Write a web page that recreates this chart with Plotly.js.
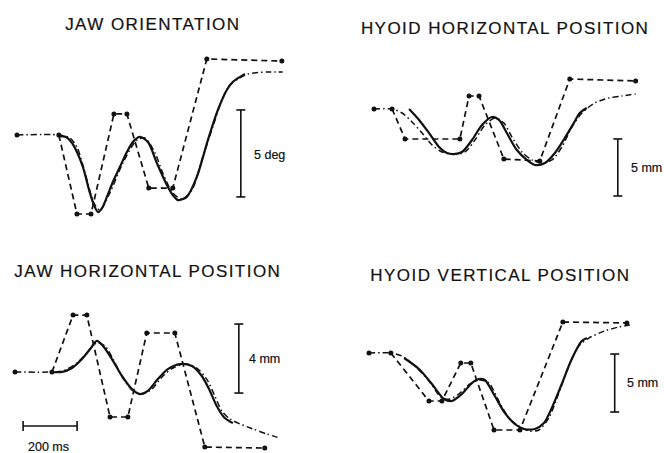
<!DOCTYPE html>
<html>
<head>
<meta charset="utf-8">
<script src="https://cdn.plot.ly/plotly-3.0.1.min.js"></script>
<style>
  html, body { margin: 0; padding: 0; background: #fff; }
  #chart { width: 664px; height: 453px; }
  g.annotation text { stroke: #111; stroke-width: 0.2px; }
  g.annotation[data-index="0"] text, g.annotation[data-index="1"] text,
  g.annotation[data-index="2"] text, g.annotation[data-index="3"] text { letter-spacing: 1.45px; }
</style>
</head>
<body>
<div id="chart"></div>
<script>
// ---------- DATA (time in ms, values in deg / mm, relative to initial position) ----------
const panelTitles = ['JAW ORIENTATION', 'HYOID HORIZONTAL POSITION', 'JAW HORIZONTAL POSITION', 'HYOID VERTICAL POSITION'];
const scaleValues = [5, 5, 4, 5];
const scaleLabels = ['5 deg', '5 mm', '4 mm', '5 mm'];
const timeScaleMs = 200;
const timeScaleLabel = '200 ms';

// JAW ORIENTATION (deg)
const joTargetT = [0, 155, 222, 274, 359, 407, 488, 577, 703, 981];
const joTargetV = [0, 0, -4.54, -4.54, 1.21, 1.21, -3.05, -3.05, 4.37, 4.25];
const joMeasT = [155, 181, 204, 222, 244, 270, 285, 300, 315, 333, 355, 381, 407, 429, 455, 485, 518, 555, 577, 596, 614, 629, 666, 707, 744, 777, 799, 825, 844];
const joMeasV = [-0.06, -0.11, -0.46, -0.98, -1.84, -3.33, -4.02, -4.43, -4.20, -3.56, -2.70, -1.84, -0.98, -0.40, -0.11, -0.40, -1.61, -2.87, -3.45, -3.74, -3.68, -3.56, -2.41, -0.29, 1.44, 2.59, 3.05, 3.33, 3.51];
const joModelT = [0, 155, 196, 222, 252, 285, 307, 344, 392, 444, 474, 511, 540, 577, 611, 648, 688, 725, 759, 788, 825, 855, 925, 984];
const joModelV = [0, 0, -0.17, -0.69, -2.18, -3.91, -4.31, -3.33, -1.61, -0.29, -0.17, -1.03, -2.18, -3.33, -3.68, -3.16, -1.26, 0.46, 2.01, 2.87, 3.28, 3.51, 3.62, 3.62];

// HYOID HORIZONTAL POSITION (mm)
const hhTargetT = [0, 67, 115, 318, 352, 389, 481, 614, 725, 969];
const hhTargetV = [0, 0, -2.63, -2.63, 1.14, 1.14, -4.39, -4.56, 2.63, 2.46];
const hhMeasT = [130, 167, 204, 241, 270, 296, 326, 363, 400, 437, 463, 492, 529, 566, 596, 633, 670, 707, 740, 762, 788];
const hhMeasV = [0, -0.96, -2.11, -3.33, -3.86, -3.95, -3.77, -2.72, -1.40, -0.70, -0.96, -2.11, -3.60, -4.47, -4.91, -4.74, -3.86, -2.54, -1.23, -0.35, 0.09];
const hhModelT = [0, 67, 104, 141, 178, 215, 252, 300, 337, 374, 411, 448, 481, 511, 548, 585, 622, 659, 696, 733, 770, 818, 870, 918, 969];
const hhModelV = [0, 0, -0.35, -1.14, -2.11, -3.16, -3.77, -3.95, -3.77, -2.72, -1.40, -0.79, -1.23, -2.46, -3.77, -4.47, -4.74, -4.47, -3.33, -1.58, -0.35, 0.53, 0.96, 1.14, 1.32];

// JAW HORIZONTAL POSITION (mm)
const jhTargetT = [0, 137, 215, 266, 352, 418, 488, 592, 703, 925];
const jhTargetV = [0, 0, 3.30, 3.30, -2.61, -2.61, 2.26, 2.26, -4.35, -4.41];
const jhMeasT = [137, 174, 211, 248, 278, 303, 326, 359, 396, 433, 463, 492, 529, 566, 611, 655, 692, 722, 747, 777, 807];
const jhMeasV = [0, 0, 0.23, 0.75, 1.33, 1.80, 1.51, 0.75, -0.23, -0.99, -1.28, -1.10, -0.41, 0.17, 0.46, 0.35, -0.23, -1.10, -1.97, -2.67, -2.96];
const jhModelT = [0, 137, 178, 229, 266, 303, 333, 363, 400, 437, 470, 507, 548, 585, 629, 673, 710, 740, 766, 796, 833, 881, 932, 981];
const jhModelV = [0, 0, 0.06, 0.52, 1.10, 1.68, 1.51, 0.75, -0.35, -1.10, -1.28, -0.99, -0.23, 0.23, 0.46, 0.23, -0.41, -1.39, -2.26, -2.72, -3.01, -3.30, -3.59, -3.83];

// HYOID VERTICAL POSITION (mm)
const hvTargetT = [0, 81, 222, 270, 340, 377, 463, 559, 718, 955];
const hvTargetV = [0, 0, -4.14, -4.14, -0.86, -0.86, -6.64, -6.64, 2.67, 2.59];
const hvMeasT = [130, 185, 233, 278, 307, 344, 381, 407, 429, 466, 503, 540, 574, 614, 648, 677, 714, 751, 788, 807];
const hvMeasV = [-0.43, -1.38, -2.67, -3.97, -4.14, -3.53, -2.59, -2.24, -2.33, -3.71, -5.17, -6.12, -6.55, -6.55, -6.03, -4.74, -2.67, -0.52, 1.03, 1.29];
const hvModelT = [0, 81, 122, 170, 222, 270, 300, 337, 374, 411, 444, 481, 518, 555, 592, 629, 666, 703, 740, 777, 814, 873, 925, 966];
const hvModelV = [0, 0, -0.26, -1.12, -2.41, -3.88, -3.97, -3.45, -2.67, -2.33, -2.59, -4.14, -5.60, -6.29, -6.72, -6.64, -5.60, -3.45, -1.12, 0.60, 1.29, 1.90, 2.24, 2.41];

// ---------- LAYOUT (pixel geometry of the page) ----------
const W = 664, H = 453, KX = 0.27; // px per ms
const panels = [
  { title: panelTitles[0], tc: [152.5, 24.5], xd: [0, 332], yd: [36, 228], x0: 17, y0: 135, ky: 17.4,
    tT: joTargetT, tV: joTargetV, mT: joMeasT, mV: joMeasV, sT: joModelT, sV: joModelV,
    bar: { t: 829, v0: -3.56 }, label: [252, 155] },
  { title: panelTitles[1], tc: [504.5, 28.5], xd: [332, 664], yd: [36, 228], x0: 374, y0: 109, ky: 11.4,
    tT: hhTargetT, tV: hhTargetV, mT: hhMeasT, mV: hhMeasV, sT: hhModelT, sV: hhModelV,
    bar: { t: 903, v0: -7.63 }, label: [629, 168] },
  { title: panelTitles[2], tc: [148, 271], xd: [0, 332], yd: [285, 453], x0: 15, y0: 372, ky: 17.25,
    tT: jhTargetT, tV: jhTargetV, mT: jhMeasT, mV: jhMeasV, sT: jhModelT, sV: jhModelV,
    bar: { t: 829, v0: -1.22 }, label: [247, 359], timeBar: { t0: 30, v: -3.13 } },
  { title: panelTitles[3], tc: [500.5, 275], xd: [332, 664], yd: [285, 453], x0: 369, y0: 353, ky: 11.6,
    tT: hvTargetT, tV: hvTargetV, mT: hvMeasT, mV: hvMeasV, sT: hvModelT, sV: hvModelV,
    bar: { t: 910, v0: -5.09 }, label: [625, 383] }
];

const traces = [];
const layout = {
  width: W, height: H, margin: { l: 0, r: 0, t: 0, b: 0 },
  paper_bgcolor: '#fff', plot_bgcolor: 'rgba(0,0,0,0)',
  showlegend: false, annotations: [],
  font: { family: 'Liberation Sans, Arial, sans-serif', color: '#111' }
};
const ink = '#111';

panels.forEach((p, i) => {
  const n = i === 0 ? '' : String(i + 1);
  const xa = 'x' + n, ya = 'y' + n;
  layout['xaxis' + n] = {
    domain: [p.xd[0] / W, p.xd[1] / W],
    range: [(p.xd[0] - p.x0) / KX, (p.xd[1] - p.x0) / KX],
    visible: false, fixedrange: true, anchor: ya
  };
  layout['yaxis' + n] = {
    domain: [1 - p.yd[1] / H, 1 - p.yd[0] / H],
    range: [(p.y0 - p.yd[1]) / p.ky, (p.y0 - p.yd[0]) / p.ky],
    visible: false, fixedrange: true, anchor: xa
  };
  // target (dashed, piecewise linear)
  traces.push({ x: p.tT.slice(1), y: p.tV.slice(1), xaxis: xa, yaxis: ya, mode: 'lines', hoverinfo: 'skip',
    line: { color: ink, width: 1.7, dash: '6px,4px' } });
  traces.push({ x: p.tT, y: p.tV, xaxis: xa, yaxis: ya, mode: 'markers', hoverinfo: 'skip',
    marker: { color: ink, size: 5 } });
  // model (dash-dot)
  traces.push({ x: p.sT, y: p.sV, xaxis: xa, yaxis: ya, mode: 'lines', hoverinfo: 'skip',
    line: { color: ink, width: 1.5, dash: '6px,3px,1.5px,3px', shape: 'spline', smoothing: 0.8 } });
  // measured (solid)
  traces.push({ x: p.mT, y: p.mV, xaxis: xa, yaxis: ya, mode: 'lines', hoverinfo: 'skip',
    line: { color: ink, width: 2.2, shape: 'spline', smoothing: 0.8 } });
  // vertical scale bar
  const cap = 4.5 / KX, v1 = p.bar.v0 + scaleValues[i];
  traces.push({ x: [p.bar.t - cap, p.bar.t + cap, null, p.bar.t, p.bar.t, null, p.bar.t - cap, p.bar.t + cap],
    y: [p.bar.v0, p.bar.v0, null, p.bar.v0, v1, null, v1, v1], xaxis: xa, yaxis: ya, mode: 'lines',
    hoverinfo: 'skip', line: { color: ink, width: 1.6 } });
  // time scale bar
  if (p.timeBar) {
    const t1 = p.timeBar.t0 + timeScaleMs, h = 5 / p.ky;
    traces.push({ x: [p.timeBar.t0, p.timeBar.t0, null, p.timeBar.t0, t1, null, t1, t1],
      y: [p.timeBar.v - h, p.timeBar.v + h, null, p.timeBar.v, p.timeBar.v, null, p.timeBar.v - h, p.timeBar.v + h],
      xaxis: xa, yaxis: ya, mode: 'lines', hoverinfo: 'skip', line: { color: ink, width: 1.6 } });
  }
});

// titles first (indices 0..3), then labels
panels.forEach(p => {
  layout.annotations.push({ text: p.title, xref: 'paper', yref: 'paper', x: p.tc[0] / W, y: 1 - p.tc[1] / H,
    xanchor: 'center', yanchor: 'middle', showarrow: false, font: { size: 17, color: ink } });
});
panels.forEach((p, i) => {
  layout.annotations.push({ text: scaleLabels[i], xref: 'paper', yref: 'paper', x: p.label[0] / W, y: 1 - p.label[1] / H,
    xanchor: 'left', yanchor: 'middle', showarrow: false, font: { size: 12.5, color: ink } });
});
layout.annotations.push({ text: timeScaleLabel, xref: 'paper', yref: 'paper', x: 26 / W, y: 1 - 447 / H,
  xanchor: 'left', yanchor: 'middle', showarrow: false, font: { size: 12.5, color: ink } });

Plotly.newPlot('chart', traces, layout, { displayModeBar: false, staticPlot: true });
</script>
</body>
</html>
